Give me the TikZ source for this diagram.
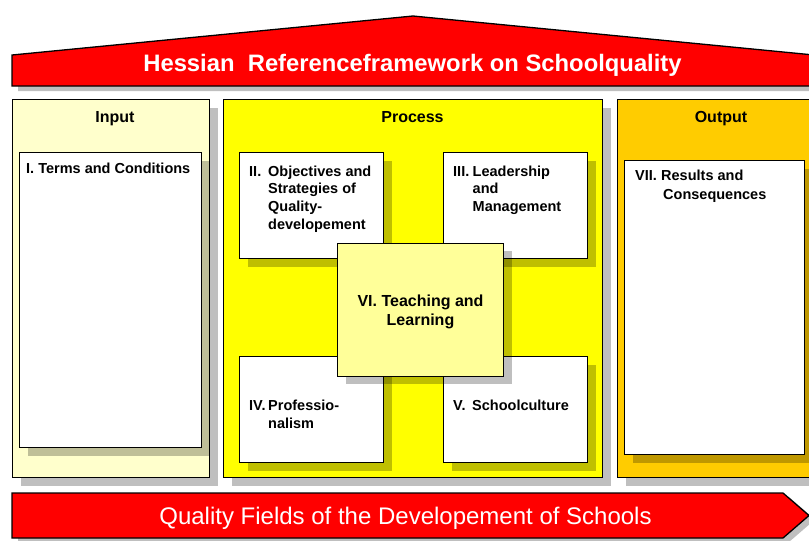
\documentclass[tikz,border=0pt]{standalone}
\usepackage{fontspec}
\setmainfont{Liberation Sans}
\usetikzlibrary{shadows}

\definecolor{inputyellow}{HTML}{FFFFCC}
\definecolor{processyellow}{HTML}{FFFF00}
\definecolor{outputorange}{HTML}{FFCC00}
\definecolor{teachyellow}{HTML}{FFFF99}
\definecolor{roofred}{HTML}{FF0000}

\tikzset{
  boxshadow/.style={drop shadow={shadow xshift=8pt, shadow yshift=-8pt, opacity=.25, fill=black}},
  panel/.style={draw=black, line width=1.2pt, anchor=north west, inner sep=0pt, boxshadow},
  field/.style={draw=black, line width=1pt, fill=white, anchor=north west, inner sep=0pt, boxshadow},
  fieldtext/.style={anchor=base west, inner sep=0pt, font=\fontsize{14.5}{17.7}\selectfont\bfseries},
  head/.style={anchor=base, inner sep=0pt, font=\fontsize{16}{19}\selectfont\bfseries},
}

\begin{document}
\begin{tikzpicture}[x=1pt,y=-1pt]
		\useasboundingbox (0,0) rectangle (809,541);
		\clip (0,0) rectangle (809,541);
		% Roof with title
		\fill [black,opacity=.25,shift={(6,5)}] (12,86) -- (12,55) -- (413,16) -- (814,55) -- (814,86) -- cycle;
		\draw [fill=roofred,line width=1.3pt] (12,86) -- (12,55) -- (413,16) -- (814,55) -- (814,86) -- cycle;
		\node [anchor=base, inner sep=0pt, text=white, font=\fontsize{23.8}{28}\selectfont\bfseries] (title) at (412.5,71) {Hessian\ \ Referenceframework on Schoolquality};

		% Input, process, output columns
		\node [panel, fill=inputyellow, minimum width=197pt, minimum height=378pt] (input) at (12,99) {};
		\node [panel, fill=processyellow, minimum width=379pt, minimum height=378pt] (process) at (223,99) {};
		\node [panel, fill=outputorange, minimum width=200pt, minimum height=378pt] (output) at (617,99) {};
		\node [head] (inputhead) at (115,122) {Input};
		\node [head] (processhead) at (412.5,122) {Process};
		\node [head] (outputhead) at (721,122) {Output};

		% Quality fields
		\node [field, minimum width=182pt, minimum height=295pt] (conditions) at (19,152) {};
		\node [field, minimum width=180pt, minimum height=294pt] (results) at (624,160) {};
		\node [field, minimum width=144pt, minimum height=106pt] (objectives) at (239,152) {};
		\node [field, minimum width=144pt, minimum height=106pt] (leadership) at (443,152) {};
		\node [field, minimum width=144pt, minimum height=106pt] (profession) at (239,356) {};
		\node [field, minimum width=144pt, minimum height=106pt] (culture) at (443,356) {};
		\node [field, fill=teachyellow, minimum width=166pt, minimum height=133pt] (teaching) at (337,242.5) {};

		\node [fieldtext] (conditionstext) at (26,173) {I. Terms and Conditions};
		\node [fieldtext] (objectivestext) at (249,176) {\begin{tabular}[t]{@{}l@{}l@{}}\makebox[19pt][l]{II.} & Objectives and\\ & Strategies of\\ & Quality-\\ & developement\end{tabular}};
		\node [fieldtext] (leadershiptext) at (453,176) {\begin{tabular}[t]{@{}l@{}l@{}}\makebox[19.5pt][l]{III.} & Leadership\\ & and\\ & Management\end{tabular}};
		\node [fieldtext] (professiontext) at (249,410.5) {\begin{tabular}[t]{@{}l@{}l@{}}\makebox[19pt][l]{IV.} & Professio-\\ & nalism\end{tabular}};
		\node [fieldtext] (culturetext) at (453,410) {\begin{tabular}[t]{@{}l@{}l@{}}\makebox[19pt][l]{V.} & Schoolculture\end{tabular}};
		\node [fieldtext] (resultstext) at (635,180) {\begin{tabular}[t]{@{}l@{}l@{}}\makebox[26pt][l]{VII.} & Results and\\[1.3pt] & \hspace{2pt}Consequences\end{tabular}};
		\node [anchor=base, inner sep=0pt, font=\fontsize{16}{19.5}\selectfont\bfseries] (teachingtext) at (420.5,306) {\begin{tabular}[t]{@{}c@{}}VI. Teaching and\\Learning\end{tabular}};

		% Arrow along the bottom
		\fill [black,opacity=.25,shift={(6,4)}] (12,493) -- (783,493) -- (809,515.5) -- (783,538) -- (12,538) -- cycle;
		\draw [fill=roofred,line width=1.3pt] (12,493) -- (783,493) -- (809,515.5) -- (783,538) -- (12,538) -- cycle;
		\node [anchor=base, inner sep=0pt, text=white, font=\fontsize{24}{28}\selectfont] (fields) at (405.5,524.3) {Quality Fields of the Developement of Schools};
	\end{tikzpicture}
\end{document}
